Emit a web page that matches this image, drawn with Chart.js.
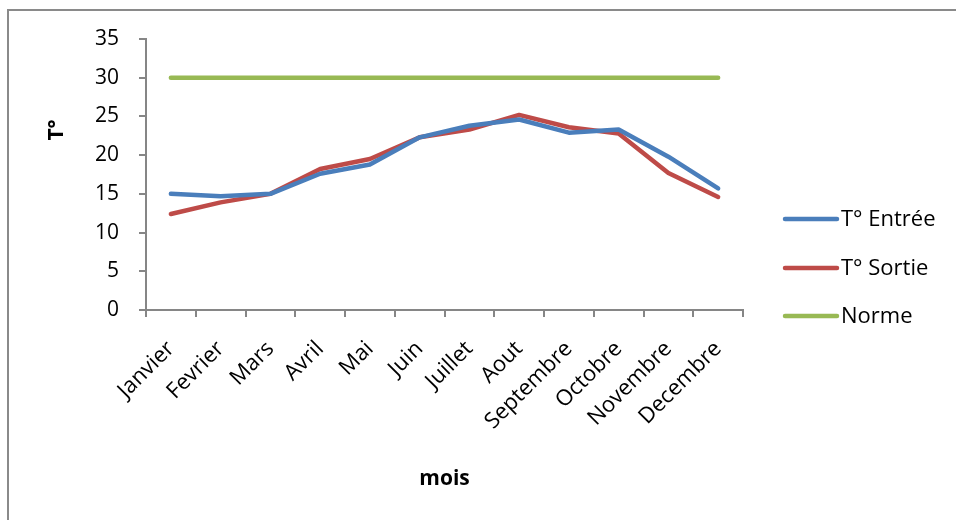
<!DOCTYPE html>
<html>
<head>
<meta charset="utf-8">
<script src="https://cdn.jsdelivr.net/npm/chart.js@4/dist/chart.umd.min.js"></script>
<style>
  html, body { margin: 0; padding: 0; background: #fff; }
  #wrap { position: relative; width: 956px; height: 520px; }
</style>
</head>
<body>
<div id="wrap"><canvas id="c" width="956" height="520"></canvas></div>
<script>
// Monthly temperatures (°C)
const mois = ['Janvier', 'Fevrier', 'Mars', 'Avril', 'Mai', 'Juin', 'Juillet', 'Aout', 'Septembre', 'Octobre', 'Novembre', 'Decembre'];
const tEntree = [15.0, 14.7, 15.0, 17.6, 18.8, 22.3, 23.8, 24.6, 22.9, 23.3, 19.8, 15.7];
const tSortie = [12.4, 13.9, 15.0, 18.2, 19.5, 22.3, 23.3, 25.2, 23.6, 22.8, 17.7, 14.6];
const norme = [30, 30, 30, 30, 30, 30, 30, 30, 30, 30, 30, 30];
const seriesNames = ['T° Entrée', 'T° Sortie', 'Norme'];
const yTicks = [0, 5, 10, 15, 20, 25, 30, 35];

const FONT = '"Open Sans", Lato, sans-serif';
const FS = 21;      // numbers on the value axis
const FS_TXT = 22;  // month names and legend
const AXIS = '#868686';

// Frame, axis titles and legend drawn on top of the chart
const decor = {
  id: 'decor',
  afterDraw(chart) {
    const ctx = chart.ctx;
    ctx.save();
    ctx.strokeStyle = '#8a8a8a';
    ctx.lineWidth = 2;
    ctx.strokeRect(8, 10, 1000, 600);

    ctx.fillStyle = '#000';
    ctx.font = 'bold 21px ' + FONT;
    ctx.textAlign = 'center';
    ctx.textBaseline = 'middle';
    const a = chart.chartArea;
    ctx.fillText('mois', (a.left + a.right) / 2, 479);
    ctx.save();
    ctx.translate(57, 130);
    ctx.rotate(-Math.PI / 2);
    ctx.fillText('T°', 0, 0);
    ctx.restore();

    ctx.font = FS_TXT + 'px ' + FONT;
    ctx.textAlign = 'left';
    const ys = [219, 268, 316];
    chart.data.datasets.forEach((ds, i) => {
      ctx.strokeStyle = ds.borderColor;
      ctx.lineWidth = 4.5;
      ctx.lineCap = 'round';
      ctx.beginPath();
      ctx.moveTo(785, ys[i]);
      ctx.lineTo(837, ys[i]);
      ctx.stroke();
      ctx.fillText(ds.label, 841, ys[i] + 1);
    });
    ctx.restore();
  }
};

const lineDs = (label, data, color) => ({
  label, data,
  borderColor: color,
  backgroundColor: color,
  borderWidth: 4.5,
  pointRadius: 0,
  tension: 0,
  borderCapStyle: 'round',
  borderJoinStyle: 'round'
});

new Chart(document.getElementById('c'), {
  type: 'line',
  data: {
    labels: mois,
    datasets: [
      lineDs(seriesNames[0], tEntree, '#4A7EBB'),
      lineDs(seriesNames[1], tSortie, '#BE4B48'),
      lineDs(seriesNames[2], norme, '#98B954')
    ]
  },
  options: {
    responsive: false,
    animation: false,
    layout: { padding: { top: 39, right: 213, bottom: 0, left: 0 } },
    plugins: { legend: { display: false }, tooltip: { enabled: false } },
    scales: {
      x: {
        offset: true,
        grid: {
          offset: true,
          drawOnChartArea: false,
          drawTicks: true,
          tickLength: 7,
          color: AXIS,
          lineWidth: 2
        },
        border: { color: AXIS, width: 2 },
        ticks: {
          autoSkip: false,
          maxRotation: 45,
          minRotation: 45,
          padding: 19,
          color: '#000',
          font: { family: FONT, size: FS_TXT }
        },
        afterFit(s) { s.height = 210; }
      },
      y: {
        min: 0,
        max: 35,
        afterBuildTicks(s) { s.ticks = yTicks.map(v => ({ value: v })); },
        grid: {
          drawOnChartArea: false,
          tickLength: 7,
          color: AXIS,
          lineWidth: 2
        },
        border: { color: AXIS, width: 2 },
        ticks: {
          padding: 20,
          color: '#000',
          font: { family: FONT, size: FS }
        },
        afterFit(s) { s.width = 146; }
      }
    }
  },
  plugins: [decor]
});
</script>
</body>
</html>
